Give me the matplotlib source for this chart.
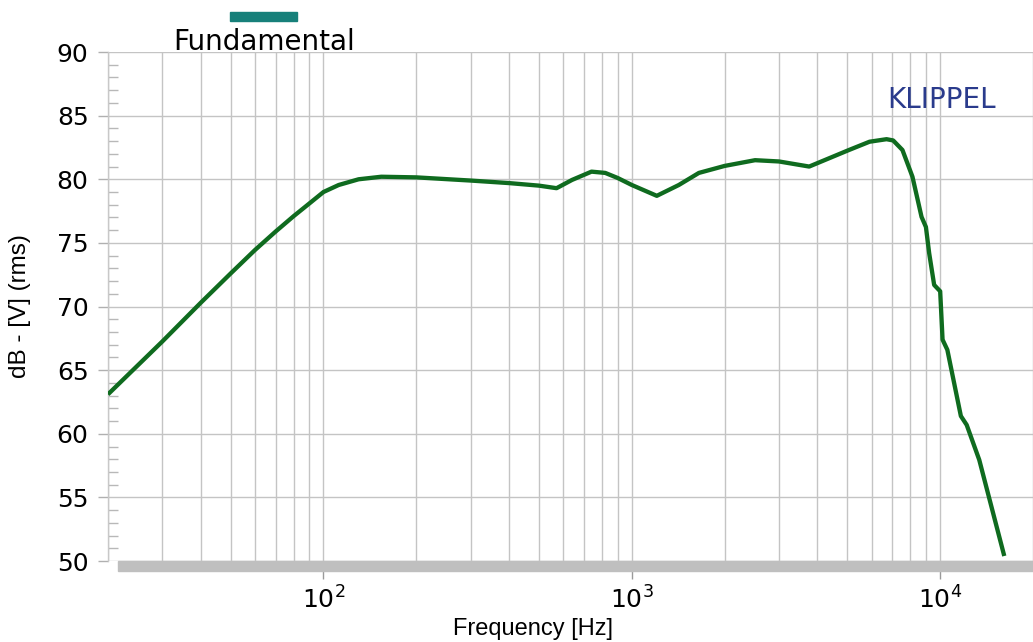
import numpy as np
import matplotlib.pyplot as plt
from matplotlib.patches import Rectangle
from matplotlib.ticker import FixedLocator, MultipleLocator, NullFormatter

plt.rcParams['font.family'] = ['Liberation Sans', 'DejaVu Sans']
plt.rcParams['mathtext.fontset'] = 'dejavusans'

# ---- data (frequency in Hz, level in dB) ----
freq = [20, 30, 40, 50, 60, 70, 80, 90, 100, 112, 130, 154, 200, 300, 400,
        500, 570, 640, 740, 820, 900, 1000, 1205, 1420, 1650, 2000, 2510,
        3000, 3760, 5060, 5900, 6700, 7040, 7545, 8130, 8700, 8990, 9210,
        9560, 10000, 10180, 10550, 11670, 12190, 13390, 16140]
level = [63.1, 67.25, 70.3, 72.6, 74.45, 75.9, 77.1, 78.1, 79.0, 79.55, 80.0,
         80.2, 80.15, 79.9, 79.7, 79.5, 79.3, 79.95, 80.6, 80.5, 80.1, 79.55,
         78.7, 79.55, 80.5, 81.05, 81.5, 81.4, 81.0, 82.3, 82.95, 83.15, 83.05,
         82.3, 80.2, 77.05, 76.25, 74.2, 71.7, 71.2, 67.4, 66.6, 61.4, 60.7,
         57.95, 50.4]

xmajor = [100, 1000, 10000]
xlabels = ['$10^{2}$', '$10^{3}$', '$10^{4}$']
yticks = [50, 55, 60, 65, 70, 75, 80, 85, 90]

grid_col = '#c4c4c4'
curve_col = '#0f6b1f'
wide = 'DejaVu Sans'   # the reference lettering is rather wide

fig = plt.figure(figsize=(10.33, 6.42), dpi=100)
ax = fig.add_axes([0.1045, 0.126, 0.8955, 0.793])

ax.plot(freq, level, color=curve_col, lw=3.1, solid_capstyle='butt', zorder=3)

ax.set_xscale('log')
ax.set_xlim(20, 20000)
ax.set_ylim(50, 90)

# grid: every decade step vertically, every 5 dB horizontally
minor_x = [m * 10 ** d for d in (1, 2, 3, 4) for m in range(2, 10)
           if 20 <= m * 10 ** d <= 20000]
for f in minor_x + xmajor:
    ax.axvline(f, color=grid_col, lw=1.0, zorder=1)
for y in yticks:
    ax.axhline(y, color=grid_col, lw=1.0, zorder=1)

ax.xaxis.set_major_locator(FixedLocator(xmajor))
ax.set_xticklabels(xlabels, family=wide)
ax.xaxis.set_minor_locator(FixedLocator(minor_x))
ax.xaxis.set_minor_formatter(NullFormatter())
ax.tick_params(axis='x', which='major', direction='out', length=13,
               color='#9a9a9a', width=1.0, labelsize=18, pad=5)
ax.tick_params(axis='x', which='minor', length=0)

ax.set_yticks(yticks)
ax.set_yticklabels([str(v) for v in yticks], family=wide)
ax.yaxis.set_minor_locator(MultipleLocator(1))
ax.tick_params(axis='y', which='major', direction='out', length=7,
               color='#b0b0b0', width=1.0, labelsize=18, pad=7)
ax.tick_params(axis='y', which='minor', direction='in', length=7,
               color='#b8b8b8', width=1.0)

for s in ('top', 'right', 'bottom'):
    ax.spines[s].set_visible(False)
ax.spines['left'].set_color('#c8c8c8')
ax.spines['left'].set_linewidth(1.0)

# thick grey bar under the plot
ax.add_patch(Rectangle((0.0108, -0.0196), 0.99, 0.0196, transform=ax.transAxes,
                       color='#bfbfbf', clip_on=False, zorder=2))

ax.set_xlabel('Frequency [Hz]', fontsize=17)
ax.xaxis.set_label_coords((533 - 108) / 925, -0.112)
ax.set_ylabel('dB - [V] (rms)', fontsize=17.5)
ax.yaxis.set_label_coords(-0.083, 0.5)

ax.text(942 / 1033, 1 - 100 / 642, 'KLIPPEL', transform=fig.transFigure,
        ha='center', va='center', fontsize=20, color='#2a3b8c', family=wide)

# legend entry
fig.add_artist(Rectangle((230 / 1033, 1 - 21 / 642), 67 / 1033, 9 / 642,
                         transform=fig.transFigure, color='#17807a'))
fig.text(264 / 1033, 1 - 42 / 642, 'Fundamental', ha='center', va='center',
         fontsize=20, family=wide)

fig.savefig('out.png', dpi=100)
